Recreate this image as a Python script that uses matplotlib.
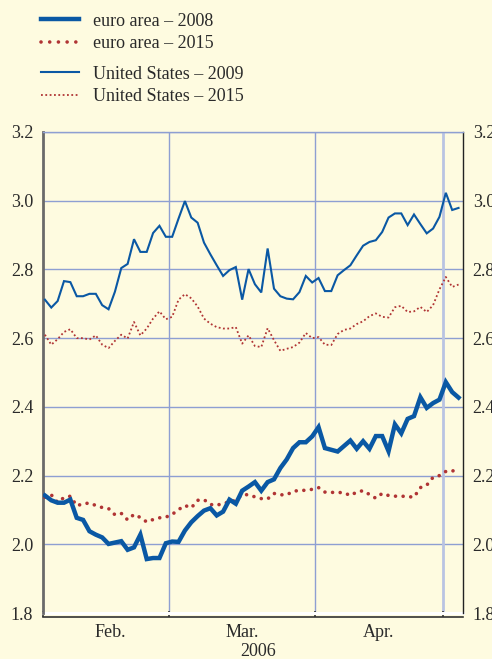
import matplotlib
matplotlib.use("Agg")
import matplotlib.pyplot as plt
from matplotlib.lines import Line2D
import numpy as np

# ---- data (business days from 1 Feb 2006) ----
euro_2008 = [2.142, 2.128, 2.121, 2.121, 2.130, 2.077, 2.071, 2.038, 2.028, 2.020,
             2.001, 2.005, 2.009, 1.984, 1.991, 2.028, 1.957, 1.960, 1.960, 2.003,
             2.008, 2.007, 2.040, 2.064, 2.082, 2.098, 2.105, 2.084, 2.095, 2.130,
             2.118, 2.156, 2.168, 2.181, 2.156, 2.181, 2.189, 2.222, 2.247, 2.280,
             2.297, 2.297, 2.314, 2.341, 2.280, 2.275, 2.270, 2.286, 2.302, 2.278,
             2.300, 2.278, 2.315, 2.315, 2.271, 2.349, 2.323, 2.365, 2.373, 2.428,
             2.397, 2.411, 2.421, 2.472, 2.443, 2.427]
euro_2015 = [2.137, 2.144, 2.122, 2.136, 2.140, 2.112, 2.118, 2.120, 2.113, 2.107,
             2.104, 2.086, 2.090, 2.071, 2.087, 2.078, 2.065, 2.072, 2.077, 2.079,
             2.087, 2.101, 2.113, 2.106, 2.128, 2.130, 2.116, 2.113, 2.120, 2.122,
             2.128, 2.145, 2.144, 2.138, 2.133, 2.132, 2.148, 2.144, 2.144, 2.154,
             2.157, 2.157, 2.160, 2.165, 2.152, 2.151, 2.151, 2.150, 2.142, 2.152,
             2.156, 2.145, 2.134, 2.148, 2.142, 2.140, 2.140, 2.139, 2.137, 2.165,
             2.172, 2.195, 2.200, 2.212, 2.212, 2.226]
us_2009 = [2.712, 2.689, 2.708, 2.766, 2.763, 2.722, 2.722, 2.729, 2.729, 2.696,
           2.684, 2.735, 2.804, 2.816, 2.888, 2.851, 2.851, 2.906, 2.927, 2.895,
           2.895, 2.948, 2.999, 2.951, 2.936, 2.878, 2.844, 2.812, 2.781, 2.798,
           2.807, 2.712, 2.801, 2.757, 2.733, 2.861, 2.744, 2.722, 2.715, 2.713,
           2.734, 2.781, 2.762, 2.775, 2.737, 2.737, 2.783, 2.798, 2.812, 2.841,
           2.869, 2.880, 2.885, 2.909, 2.951, 2.963, 2.963, 2.929, 2.960, 2.932,
           2.905, 2.919, 2.953, 3.023, 2.973, 2.979]
us_2015 = [2.610, 2.581, 2.597, 2.618, 2.626, 2.600, 2.600, 2.596, 2.608, 2.581,
           2.571, 2.592, 2.610, 2.599, 2.647, 2.608, 2.628, 2.657, 2.678, 2.655,
           2.662, 2.712, 2.728, 2.716, 2.692, 2.657, 2.642, 2.632, 2.628, 2.628,
           2.632, 2.584, 2.608, 2.577, 2.574, 2.629, 2.594, 2.563, 2.569, 2.574,
           2.587, 2.615, 2.600, 2.603, 2.581, 2.580, 2.612, 2.624, 2.628, 2.641,
           2.649, 2.664, 2.672, 2.662, 2.660, 2.690, 2.694, 2.676, 2.678, 2.691,
           2.676, 2.696, 2.742, 2.778, 2.749, 2.756]
month_bounds = [19.5, 42.5, 62.5]
month_labels = ["Feb.", "Mar.", "Apr."]
month_centers = [10.2, 31.0, 52.5]
year_label = "2006"
yticks = [1.8, 2.0, 2.2, 2.4, 2.6, 2.8, 3.0, 3.2]

BG = "#fefbe0"
BLUE = "#0a58a4"
RED = "#b03434"
GRID = "#8e9fd2"
TXT = "#2a2a2a"

plt.rcParams['font.family'] = ['Liberation Serif', 'DejaVu Serif']

fig = plt.figure(figsize=(4.92, 6.59), dpi=100, facecolor=BG)
W, H = 492, 659
ax = fig.add_axes([43 / W, (H - 613) / H, 420 / W, 481 / H], facecolor=BG)

x = np.arange(len(euro_2008))

ax.plot(x, us_2015, color=RED, lw=1.3, linestyle=(0, (1, 1.4)), zorder=3)
ax.plot(x, us_2009, color=BLUE, lw=1.5, zorder=3, solid_joinstyle='miter')
ax.plot(x, euro_2015, color=RED, lw=2.6, linestyle=(0, (0.01, 2.1)),
        dash_capstyle='round', zorder=3)
ax.plot(x, euro_2008, color=BLUE, lw=3.2, zorder=4, solid_joinstyle='miter')

ax.set_xlim(-0.3, 65.7)
ax.set_ylim(1.8, 3.2)

# grid
for yv in yticks[1:]:
    ax.axhline(yv, color=GRID, lw=1.0, zorder=1)
for i, xb in enumerate(month_bounds):
    ax.axvline(xb, color=GRID if i < 2 else "#b9c3e2", lw=1.0 if i < 2 else 2.0, zorder=1)
ax.axhline(1.8, color="white", lw=2.2, zorder=2, clip_on=False)

ax.set_yticks(yticks)
ax.set_yticklabels([f"{v:.1f}" for v in yticks])
ax.tick_params(axis='y', length=0, pad=7, labelsize=13, labelcolor=TXT,
               left=False, right=False, labelleft=True, labelright=True)

ax.set_xticks([-0.3] + month_bounds)
ax.set_xticklabels([])
ax.set_xticks(month_centers, minor=True)
ax.set_xticklabels(month_labels, minor=True)
ax.tick_params(axis='x', which='major', direction='in', length=4, width=1.2, color="#333333")
ax.tick_params(axis='x', which='minor', length=0, pad=5, labelsize=13, labelcolor=TXT)
ax.text(0.512, -0.062, year_label, transform=ax.transAxes, ha='center', va='top',
        fontsize=13, color=TXT)

ax.spines['top'].set_color(GRID)
ax.spines['top'].set_linewidth(1.0)
ax.spines['left'].set_color("#6a6a6a")
ax.spines['left'].set_linewidth(2.0)
ax.spines['right'].set_color("#222222")
ax.spines['right'].set_linewidth(1.0)
ax.spines['bottom'].set_color("#333333")
ax.spines['bottom'].set_linewidth(1.2)
ax.spines['bottom'].set_position(('outward', 3))

# legends
h1 = [Line2D([], [], color=BLUE, lw=3.2),
      Line2D([], [], color=RED, lw=2.6, linestyle=(0, (0.01, 2.4)), dash_capstyle='round')]
h2 = [Line2D([], [], color=BLUE, lw=1.5),
      Line2D([], [], color=RED, lw=1.3, linestyle=(0, (1, 1.4)))]
common = dict(loc='upper left', frameon=False, fontsize=13, handlelength=2.1,
              handletextpad=0.78, labelspacing=0.32, borderaxespad=0, borderpad=0.2,
              labelcolor=TXT)
leg1 = fig.legend(h1, ["euro area – 2008", "euro area – 2015"],
                  bbox_to_anchor=(37 / W, 1 - 9 / H), **common)
leg2 = fig.legend(h2, ["United States – 2009", "United States – 2015"],
                  bbox_to_anchor=(37 / W, 1 - 62 / H), **common)

fig.savefig("out.png", dpi=100, facecolor=BG)
